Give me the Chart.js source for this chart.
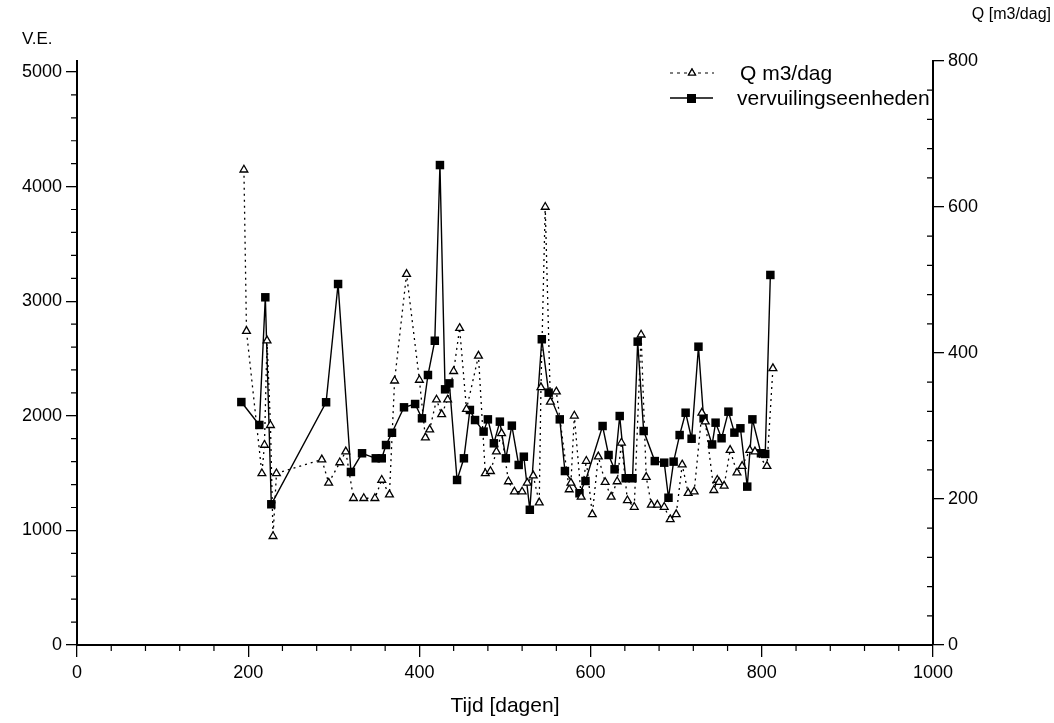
<!DOCTYPE html>
<html><head><meta charset="utf-8">
<script src="https://cdn.jsdelivr.net/npm/chart.js@4/dist/chart.umd.min.js"></script>
<style>html,body{margin:0;padding:0;background:#fff}#wrap{width:1054px;height:723px;position:relative}</style>
</head><body><div id="wrap"><canvas id="c" width="1054" height="723"></canvas></div>
<script>
// ---- data ----
const qDays = [195,198,216,219,222,226,229,233,286,294,307,314,323,335,348,356,365,371,385,400,407,412,420,426,433,440,447,455,469,477,483,490,496,504,511,520,526,533,540,542,547,553,560,575,577,581,589,595,602,609,617,624,631,636,643,651,659,665,671,678,686,693,700,707,714,721,730,734,744,748,750,756,763,771,777,786,792,806,813];
const qValues = [651,430,235,274,417,301,149,235,254,222,250,265,201,201,201,226,206,362,508,363,284,295,336,316,336,375,434,323,396,235,238,265,290,224,210,210,222,232,195,353,600,333,347,213,222,314,203,252,179,258,223,203,224,277,198,189,425,230,192,192,189,172,179,247,208,210,318,306,212,226,223,218,267,236,245,267,265,245,379];
const veDays = [192,213,220,227,291,305,320,333,349,356,361,368,382,395,403,410,418,424,430,435,444,452,459,465,475,480,487,494,501,508,516,522,529,543,551,564,570,587,594,614,621,628,634,641,649,655,662,675,686,691,697,704,711,718,726,732,742,746,753,761,768,775,783,789,799,804,810];
const veValues = [2120,1920,3034,1228,2118,3150,1510,1673,1629,1629,1745,1852,2074,2103,1978,2356,2655,4188,2231,2283,1440,1629,2051,1963,1862,1969,1760,1949,1629,1914,1571,1643,1180,2668,2202,1969,1518,1324,1431,1911,1658,1533,1998,1455,1455,2647,1867,1605,1591,1285,1600,1832,2027,1800,2603,1978,1750,1940,1804,2036,1853,1891,1382,1969,1673,1667,3229];
const xTicks = [0,200,400,600,800,1000];
const veTicks = [0,1000,2000,3000,4000,5000];
const qTicks = [0,200,400,600,800];
const seriesNames = ['Q m3/dag','vervuilingseenheden'];
const titleLeft = 'V.E.';
const titleRight = 'Q [m3/dag]';
const titleX = 'Tijd [dagen]';

const FONT = '"Liberation Sans", Arial, Helvetica, sans-serif';
const plain = v => String(v);

const decor = {
  id:'decor',
  afterDraw(chart){
    const ctx = chart.ctx;
    const x = chart.scales.x, yl = chart.scales.yVE, yr = chart.scales.yQ;
    ctx.save();
    ctx.strokeStyle='#000'; ctx.lineWidth=1.2;
    // minor ticks
    ctx.beginPath();
    for(let v=40; v<1000; v+=40){ if(v%200===0) continue; const p=x.getPixelForValue(v); ctx.moveTo(p,x.top); ctx.lineTo(p,x.top+6); }
    for(let v=200; v<5000; v+=200){ if(v%1000===0) continue; const p=yl.getPixelForValue(v); ctx.moveTo(yl.right-6,p); ctx.lineTo(yl.right,p); }
    for(let v=40; v<800; v+=40){ if(v%200===0) continue; const p=yr.getPixelForValue(v); ctx.moveTo(yr.left-6,p); ctx.lineTo(yr.left,p); }
    ctx.stroke();
    // titles
    ctx.fillStyle='#000';
    ctx.textBaseline='alphabetic';
    ctx.font='17px '+FONT;
    ctx.textAlign='left';
    ctx.fillText(titleLeft, 22, 44);
    ctx.font='16px '+FONT;
    ctx.textAlign='right';
    ctx.fillText(titleRight, 1051, 19);
    ctx.font='21px '+FONT;
    ctx.textAlign='center';
    ctx.fillText(titleX, (x.left+x.right)/2, 712);
    // legend
    const H = Chart.helpers;
    ctx.font='21px '+FONT; ctx.textAlign='left'; ctx.textBaseline='middle';
    ctx.lineWidth=1.2; ctx.setLineDash([3,4]);
    ctx.beginPath(); ctx.moveTo(670,73); ctx.lineTo(714,73); ctx.stroke();
    ctx.setLineDash([]);
    H.drawPoint(ctx,{pointStyle:'triangle',radius:4,borderWidth:1},692,73);
    ctx.fillStyle='#fff'; ctx.fill(); ctx.stroke();
    ctx.fillStyle='#000';
    ctx.fillText(seriesNames[0], 740, 74);
    ctx.lineWidth=1.6;
    ctx.beginPath(); ctx.moveTo(670,98); ctx.lineTo(713,98); ctx.stroke();
    ctx.fillRect(687,94,9,9);
    ctx.fillText(seriesNames[1], 737, 99);
    ctx.restore();
  }
};

new Chart(document.getElementById('c'), {
  type:'line',
  data:{ datasets:[
    { label:seriesNames[0], yAxisID:'yQ', data:qDays.map((d,i)=>({x:d,y:qValues[i]})),
      borderColor:'#000', borderWidth:1.3, borderDash:[2,4], pointStyle:'triangle', pointRadius:4.5,
      pointBackgroundColor:'#fff', pointBorderColor:'#000', pointBorderWidth:1.3, tension:0 },
    { label:seriesNames[1], yAxisID:'yVE', data:veDays.map((d,i)=>({x:d,y:veValues[i]})),
      borderColor:'#000', borderWidth:1.4, pointStyle:'rect', pointRadius:6,
      pointBackgroundColor:'#000', pointBorderColor:'#000', pointBorderWidth:0, tension:0 }
  ]},
  options:{
    responsive:false, animation:false, devicePixelRatio:1,
    layout:{padding:{top:61,left:0,right:0,bottom:0}},
    plugins:{legend:{display:false}, tooltip:{enabled:false}},
    scales:{
      x:{ type:'linear', min:0, max:1000,
        afterBuildTicks:s=>{ s.ticks = xTicks.map(v=>({value:v})); },
        afterFit:s=>{ s.height = 78; },
        grid:{drawOnChartArea:false, drawTicks:true, tickLength:12, color:'#000', lineWidth:1.3},
        border:{display:true, color:'#000', width:2},
        ticks:{color:'#000', font:{family:FONT, size:18}, padding:5, maxRotation:0, autoSkip:false, callback:plain}
      },
      yVE:{ type:'linear', position:'left', min:0, max:5096,
        afterBuildTicks:s=>{ s.ticks = veTicks.map(v=>({value:v})); },
        afterFit:s=>{ s.width = 77; },
        grid:{drawOnChartArea:false, drawTicks:true, tickLength:11, color:'#000', lineWidth:1.3},
        border:{display:true, color:'#000', width:2},
        ticks:{color:'#000', font:{family:FONT, size:18}, padding:4, autoSkip:false, callback:plain}
      },
      yQ:{ type:'linear', position:'right', min:0, max:800,
        afterBuildTicks:s=>{ s.ticks = qTicks.map(v=>({value:v})); },
        afterFit:s=>{ s.width = 121; },
        grid:{drawOnChartArea:false, drawTicks:true, tickLength:11, color:'#000', lineWidth:1.3},
        border:{display:true, color:'#000', width:2},
        ticks:{color:'#000', font:{family:FONT, size:18}, padding:4, autoSkip:false, callback:plain}
      }
    }
  },
  plugins:[decor]
});
</script></body></html>
